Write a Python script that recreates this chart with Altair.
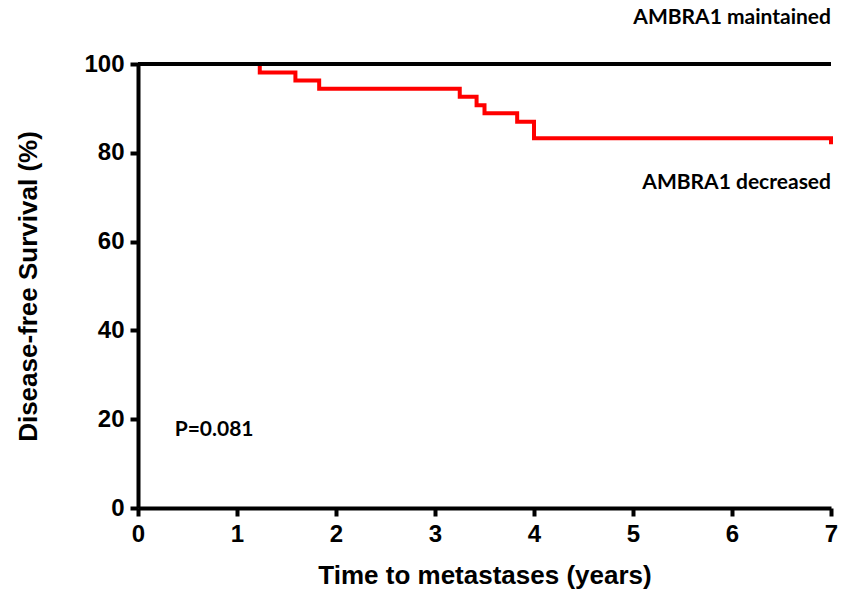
import altair as alt
import pandas as pd

# Data
dec_time = [0, 1.23, 1.59, 1.83, 3.25, 3.42, 3.50, 3.83, 4.00, 7.0, 7.0]
dec_surv = [100, 98.1, 96.3, 94.4, 92.6, 90.7, 88.9, 87.0, 83.3, 83.3, 81.9]
main_time = [0, 7]
main_surv = [100, 100]
x_ticks = [0, 1, 2, 3, 4, 5, 6, 7]
y_ticks = [0, 20, 40, 60, 80, 100]

dec_df = pd.DataFrame({"t": dec_time, "s": dec_surv, "o": list(range(len(dec_time)))})
main_df = pd.DataFrame({"t": main_time, "s": main_surv})

labels_df = pd.DataFrame({
    "t": [7.0, 7.0],
    "s": [110.4, 73.2],
    "label": ["AMBRA1 maintained", "AMBRA1 decreased"],
})
p_df = pd.DataFrame({"t": [0.37], "s": [17.6], "label": ["P=0.081"]})

xs = alt.Scale(domain=[0, 7], nice=False, zero=False)
ys = alt.Scale(domain=[0, 100], nice=False)

xax = alt.Axis(values=x_ticks, title="Time to metastases (years)", format="d", labelFlush=False)
yax = alt.Axis(values=y_ticks, title="Disease-free Survival (%)", format="d", labelFlush=False)

base_x = alt.X("t:Q", scale=xs, axis=xax)
base_y = alt.Y("s:Q", scale=ys, axis=yax)

dec_line = alt.Chart(dec_df).mark_line(
    color="#ff0000", strokeWidth=4, interpolate="step-after", clip=False
).encode(x=base_x, y=base_y, order="o:Q")
main_line = alt.Chart(main_df).mark_line(color="black", strokeWidth=4, clip=False).encode(
    x=base_x, y=base_y
)

labels = alt.Chart(labels_df).mark_text(
    align="right", baseline="middle", font="Lato", fontWeight="bold", fontSize=21, color="black"
).encode(x=base_x, y=base_y, text="label:N")

ptext = alt.Chart(p_df).mark_text(
    align="left", baseline="middle", font="Lato", fontWeight="bold", fontSize=21, color="black"
).encode(x=base_x, y=base_y, text="label:N")

chart = alt.layer(dec_line, main_line, labels, ptext).properties(
    width=693, height=444,
    autosize=alt.AutoSizeParams(type="none"),
    padding={"left": 138, "top": 64, "right": 10, "bottom": 84},
    background="white",
).configure_view(stroke=None).configure_axis(
    grid=False,
    domainColor="black",
    domainWidth=4,
    tickColor="black",
    tickWidth=4,
    tickSize=8,
    labelFont="Liberation Sans",
    labelFontWeight="bold",
    labelFontSize=24,
    labelColor="black",
    titleFont="Liberation Sans",
    titleFontWeight="bold",
    titleFontSize=26,
    titleColor="black",
).configure_axisX(
    labelPadding=6, titlePadding=16
).configure_axisY(
    labelPadding=6, titlePadding=42
)

chart.save("out.html", embed_options={"renderer": "svg", "actions": False})
